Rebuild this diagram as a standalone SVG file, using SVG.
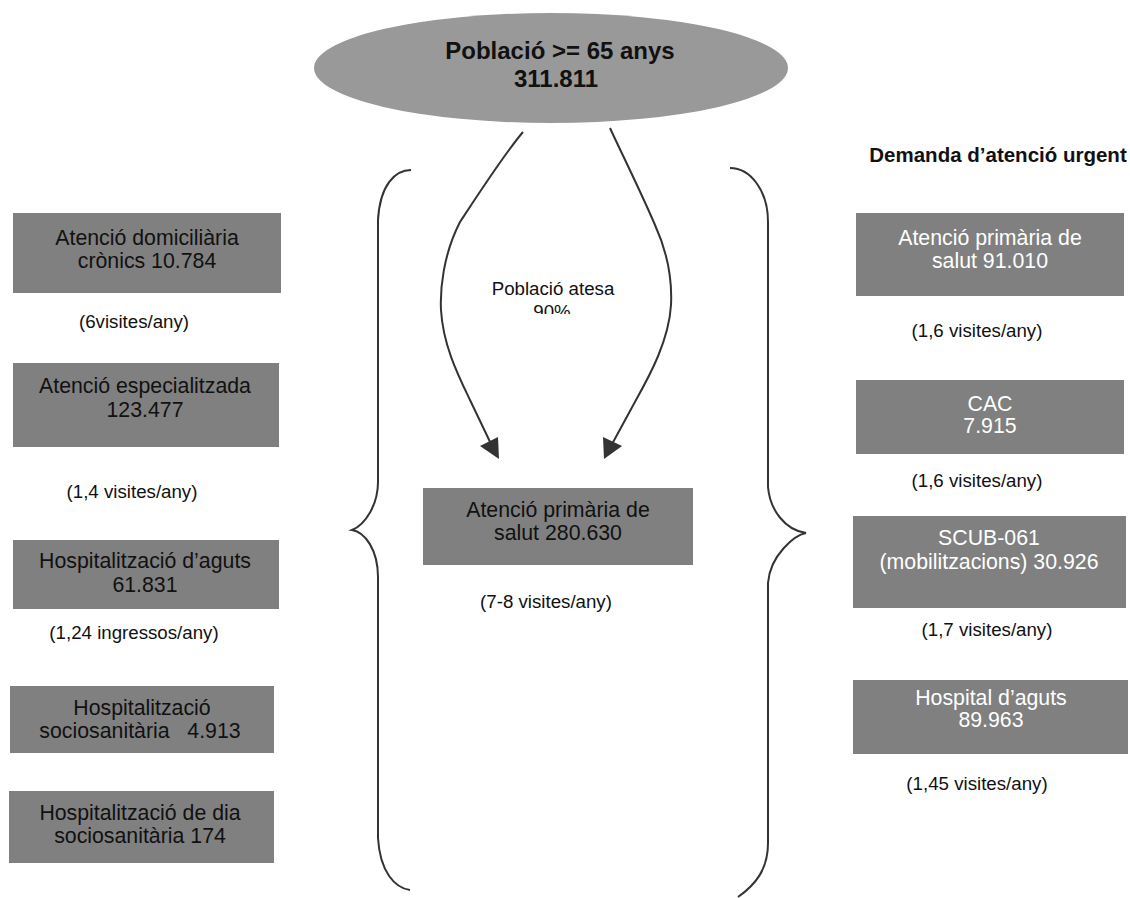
<svg xmlns="http://www.w3.org/2000/svg" width="1130" height="898" viewBox="0 0 1130 898">
<style>
.box{fill:#808080;}
.t{font-family:"Liberation Sans",Arial,sans-serif;font-size:21.3px;text-anchor:middle;fill:#111;}
.tw{font-family:"Liberation Sans",Arial,sans-serif;font-size:21.3px;text-anchor:middle;fill:#fff;}
.a{font-family:"Liberation Sans",Arial,sans-serif;font-size:18.7px;text-anchor:middle;fill:#111;}
.b{font-family:"Liberation Sans",Arial,sans-serif;font-weight:bold;text-anchor:middle;fill:#111;}
.ln{fill:none;stroke:#333;stroke-width:2;}
.ah{fill:#333;}
</style>
<defs>
<clipPath id="clip90"><rect x="400" y="0" width="300" height="314"/></clipPath>
</defs>
<rect width="1130" height="898" fill="#fff"/>

<g id="root">
<ellipse cx="551" cy="68" rx="237" ry="55" fill="#999999"/>
<text class="b" x="560" y="59" font-size="24">Població &gt;= 65 anys</text>
<text class="b" x="556" y="87" font-size="24">311.811</text>
</g>

<g id="header">
<text class="b" x="998" y="162" font-size="20.5">Demanda d’atenció urgent</text>
</g>

<g id="connectors">
<path class="ln" d="M523,132 C505,153 483,187 460,222 C443,255 440,290 441,310 C443,345 458,375 470,400 L492,446"/>
<polygon class="ah" points="480,446 498,437 499,459"/>
<path class="ln" d="M610,128 C620,150 640,190 655,225 C670,258 672,285 671,305 C669,340 650,375 636,400 L611,446"/>
<polygon class="ah" points="603,437 622,446 604,459"/>
<text class="a" x="553" y="295">Població atesa</text>
<text class="a" x="552" y="318" clip-path="url(#clip90)">90%</text>
<path class="ln" d="M411,170 C395,170 380,185 378,220 L378,482 C378,505 365,525 352,530 C365,532 378,550 378,577 L378,838 C380,872 395,888 410,890"/>
<path class="ln" d="M730,168 C750,168 768,190 768,222 L768,487 C770,510 785,530 806,533 C795,535 770,555 768,583 L768,843 C768,870 755,885 738,897"/>
</g>

<g id="n-domiciliaria">
<rect class="box" x="13" y="213" width="268" height="80"/>
<text class="t" x="147" y="245">Atenció domiciliària</text>
<text class="t" x="147" y="268">crònics 10.784</text>
</g>
<text class="a" x="134" y="328">(6visites/any)</text>

<g id="n-especialitzada">
<rect class="box" x="13" y="363" width="266" height="84"/>
<text class="t" x="145" y="393">Atenció especialitzada</text>
<text class="t" x="145" y="417">123.477</text>
</g>
<text class="a" x="132" y="498">(1,4 visites/any)</text>

<g id="n-aguts">
<rect class="box" x="13" y="540" width="266" height="69"/>
<text class="t" x="145" y="568">Hospitalització d’aguts</text>
<text class="t" x="145" y="592">61.831</text>
</g>
<text class="a" x="134" y="639">(1,24 ingressos/any)</text>

<g id="n-sociosanitaria">
<rect class="box" x="10" y="686" width="264" height="67"/>
<text class="t" x="142" y="715">Hospitalització</text>
<text class="t" x="140" y="738" xml:space="preserve">sociosanitària   4.913</text>
</g>

<g id="n-dia">
<rect class="box" x="9" y="791" width="265" height="72"/>
<text class="t" x="140" y="820">Hospitalització de dia</text>
<text class="t" x="140" y="843">sociosanitària 174</text>
</g>

<g id="n-primaria">
<rect class="box" x="423" y="488" width="270" height="77"/>
<text class="t" x="558" y="517">Atenció primària de</text>
<text class="t" x="558" y="540">salut 280.630</text>
</g>
<text class="a" x="546" y="608">(7-8 visites/any)</text>

<g id="n-urg-primaria">
<rect class="box" x="856" y="213" width="268" height="83"/>
<text class="tw" x="990" y="245">Atenció primària de</text>
<text class="tw" x="990" y="268">salut 91.010</text>
</g>
<text class="a" x="977" y="337">(1,6 visites/any)</text>

<g id="n-cac">
<rect class="box" x="856" y="380" width="268" height="74"/>
<text class="tw" x="990" y="411">CAC</text>
<text class="tw" x="990" y="433">7.915</text>
</g>
<text class="a" x="977" y="487">(1,6 visites/any)</text>

<g id="n-scub">
<rect class="box" x="853" y="516" width="273" height="92"/>
<text class="tw" x="989" y="545">SCUB-061</text>
<text class="tw" x="989" y="569">(mobilitzacions) 30.926</text>
</g>
<text class="a" x="987" y="636">(1,7 visites/any)</text>

<g id="n-hospital">
<rect class="box" x="853" y="680" width="275" height="74"/>
<text class="tw" x="991" y="705">Hospital d’aguts</text>
<text class="tw" x="991" y="727">89.963</text>
</g>
<text class="a" x="977" y="790">(1,45 visites/any)</text>
</svg>
